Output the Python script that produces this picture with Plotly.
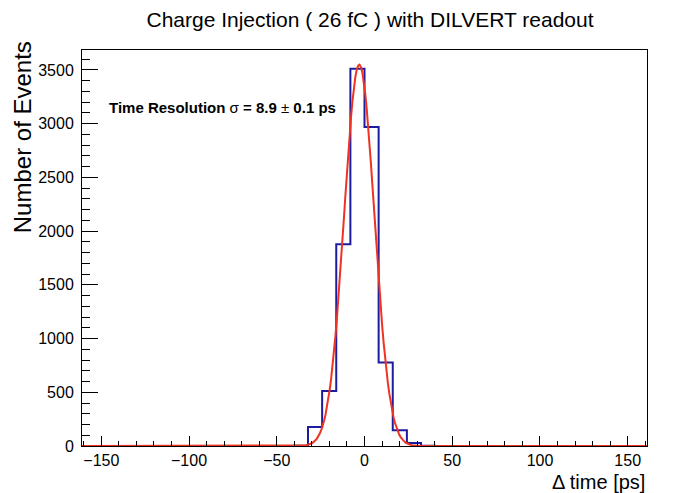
import numpy as np
import plotly.graph_objects as go

# ---- data ----
x_min, x_max, n_bins = -161.0, 161.0, 40
counts = [0]*15 + [3, 177, 512, 1878, 3510, 2970, 776, 146, 28, 2] + [0]*15
fit_amp, fit_mean, fit_sigma = 3550.0, -3.0, 8.6
x_ticks = [-150, -100, -50, 0, 50, 100, 150]
y_ticks = [0, 500, 1000, 1500, 2000, 2500, 3000, 3500]
y_max = 1.05 * max(counts)

edges = np.linspace(x_min, x_max, n_bins + 1)
hist_y = list(counts) + [counts[-1]]

xf = np.linspace(x_min, x_max, 400)
yf = fit_amp * np.exp(-0.5 * ((xf - fit_mean) / fit_sigma) ** 2)

BLUE = "#1c1c9e"
RED = "#ee3322"
FONT = "Liberation Sans, Arial, Helvetica, sans-serif"

# page body has an 8px margin; figure is sized to fit the 686x493 window
W, H = 678, 485

fig = go.Figure()
fig.add_trace(go.Scatter(x=edges, y=hist_y, mode="lines", line_shape="hv",
                         line=dict(color=BLUE, width=2), hoverinfo="skip"))
fig.add_trace(go.Scatter(x=xf, y=yf, mode="lines",
                         line=dict(color=RED, width=2), hoverinfo="skip"))

axis_common = dict(showgrid=False, zeroline=False, showline=True, linecolor="black",
                   linewidth=1, mirror=True, ticks="inside", tickcolor="black",
                   tickfont=dict(family=FONT, size=16, color="black"))

fig.update_xaxes(range=[x_min, x_max], tickvals=x_ticks, ticklen=10,
                 minor=dict(ticks="inside", dtick=10, ticklen=5, tickcolor="black"),
                 **axis_common)
fig.update_yaxes(range=[0, y_max], tickvals=y_ticks, ticklen=16,
                 minor=dict(ticks="inside", dtick=100, ticklen=8, tickcolor="black"),
                 ticklabelstandoff=4, **axis_common)

fig.update_layout(
    width=W, height=H,
    margin=dict(l=74, r=39, t=42, b=47, autoexpand=False),
    paper_bgcolor="white", plot_bgcolor="white",
    showlegend=False,
    title=dict(text="Charge Injection ( 26 fC ) with DILVERT readout",
               x=362/W, xanchor="center", y=1-12/H, yanchor="middle",
               font=dict(family=FONT, size=21, color="black")),
    annotations=[
        dict(text="<b>Time Resolution </b>σ<b> = 8.9 </b>±<b> 0.1 ps</b>",
             xref="paper", yref="paper", x=0.044, y=0.856, xanchor="left",
             yanchor="middle", showarrow=False,
             font=dict(family=FONT, size=15, color="black")),
        dict(text="Number of Events", xref="paper", yref="paper",
             x=-0.106, y=0.78, xanchor="center", yanchor="middle",
             textangle=-90, showarrow=False,
             font=dict(family=FONT, size=24, color="black")),
        dict(text="Δ time [ps]", xref="paper", yref="paper",
             x=1.0, y=-0.09, xanchor="right", yanchor="middle",
             showarrow=False, font=dict(family=FONT, size=20, color="black")),
    ],
)

fig.write_html("out.html")
